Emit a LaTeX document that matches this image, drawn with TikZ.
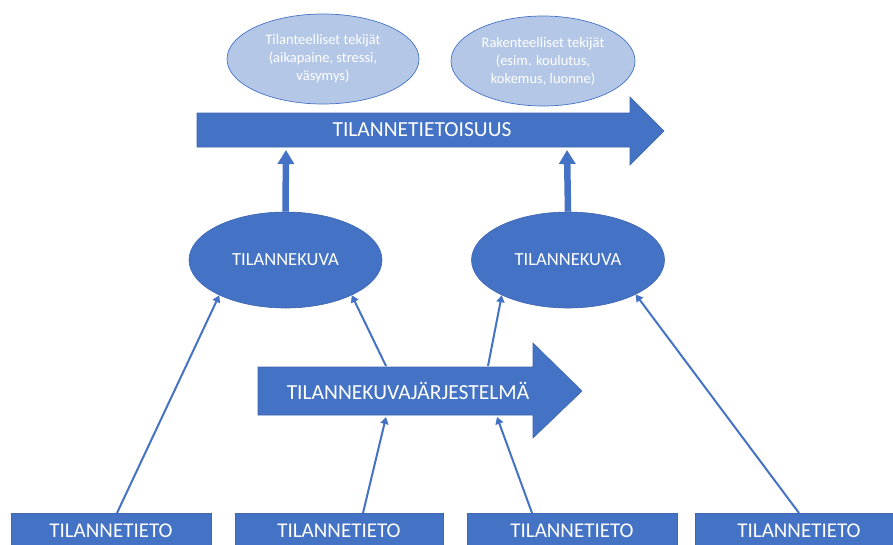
\documentclass[tikz,border=0pt]{standalone}
\usepackage{fontspec}
\setmainfont{Carlito}
\usetikzlibrary{arrows.meta,shapes.geometric}

\definecolor{officeblue}{HTML}{4472C4}
\definecolor{edgeblue}{HTML}{3F66AE}
\definecolor{paleblue}{HTML}{B4C7E7}

\tikzset{
  factor/.style={ellipse, fill=paleblue, draw=officeblue, line width=0.7pt, text=white,
    align=center, inner sep=0pt, font=\fontsize{14.5}{18}\selectfont},
  picnode/.style={ellipse, fill=officeblue, draw=edgeblue, line width=0.6pt, text=white,
    inner sep=0pt, minimum width=193pt, minimum height=96pt, font=\fontsize{18.5}{22}\selectfont},
  infobox/.style={rectangle, fill=officeblue, draw=edgeblue, line width=0.6pt, text=white,
    inner sep=0pt, minimum height=34pt, anchor=north, font=\fontsize{21}{25}\selectfont},
  bigarrow/.style={fill=officeblue, draw=edgeblue, line width=0.6pt},
  biglabel/.style={text=white, inner sep=0pt, font=\fontsize{21.5}{25}\selectfont},
  feed/.style={draw=officeblue, line width=2pt, -{Triangle[width=8pt,length=7pt]}},
  lift/.style={draw=officeblue, line width=6.5pt, -{Triangle[width=16pt,length=14pt]}}
}

\begin{document}
\begin{tikzpicture}[x=1pt, y=-1pt]
      \path[use as bounding box] (0,0) rectangle (893,544);
      \clip (0,0) rectangle (893,544);

      % tekijat
      \node[factor, minimum width=192pt, minimum height=90pt] (situational) at (323,59)
        {Tilanteelliset tekijät\\(aikapaine, stressi,\\väsymys)};
      \node[factor, minimum width=184pt, minimum height=90pt] (structural) at (543,61)
        {Rakenteelliset tekijät\\(esim. koulutus,\\kokemus, luonne)};

      % tilannetietoisuus
      \filldraw[bigarrow] (197,113) -- (630,113) -- (630,97) -- (664,131) -- (630,165)
        -- (630,147) -- (197,147) -- cycle;
      \node[biglabel] (awareness) at (422,130) {TILANNETIETOISUUS};
      \coordinate (awin1) at (286,150);
      \coordinate (awin2) at (567,150);

      % tilannekuvat
      \node[picnode] (tk1) at (285.5,260) {TILANNEKUVA};
      \node[picnode] (tk2) at (568,260) {TILANNEKUVA};

      % tilannekuvajarjestelma
      \filldraw[bigarrow] (258,367) -- (533,367) -- (533,343) -- (582,391) -- (533,438)
        -- (533,415) -- (258,415) -- cycle;
      \node[biglabel] (system) at (408,391) {TILANNEKUVAJÄRJESTELMÄ};
      \coordinate (sysout1) at (386,366);
      \coordinate (sysout2) at (488,366);
      \coordinate (sysin1) at (386,417);
      \coordinate (sysin2) at (497,417);

      % tilannetieto
      \node[infobox, minimum width=200pt] (info1) at (111,513) {TILANNETIETO};
      \node[infobox, minimum width=208pt] (info2) at (339,513) {TILANNETIETO};
      \node[infobox, minimum width=210pt] (info3) at (572,513) {TILANNETIETO};
      \node[infobox, minimum width=208pt] (info4) at (799,513) {TILANNETIETO};

      \draw[lift] (tk1.north) -- (awin1);
      \draw[lift] (tk2.north) -- (awin2);

      \draw[feed] ([xshift=6pt]info1.north) -- (tk1.208);
      \draw[feed] ([xshift=24pt]info2.north) -- (sysin1);
      \draw[feed] ([xshift=-40pt]info3.north) -- (sysin2);
      \draw[feed] (info4.north) -- (tk2.333);
      \draw[feed] (sysout1) -- (tk1.332);
      \draw[feed] (sysout2) -- (tk2.208);
   \end{tikzpicture}
\end{document}
